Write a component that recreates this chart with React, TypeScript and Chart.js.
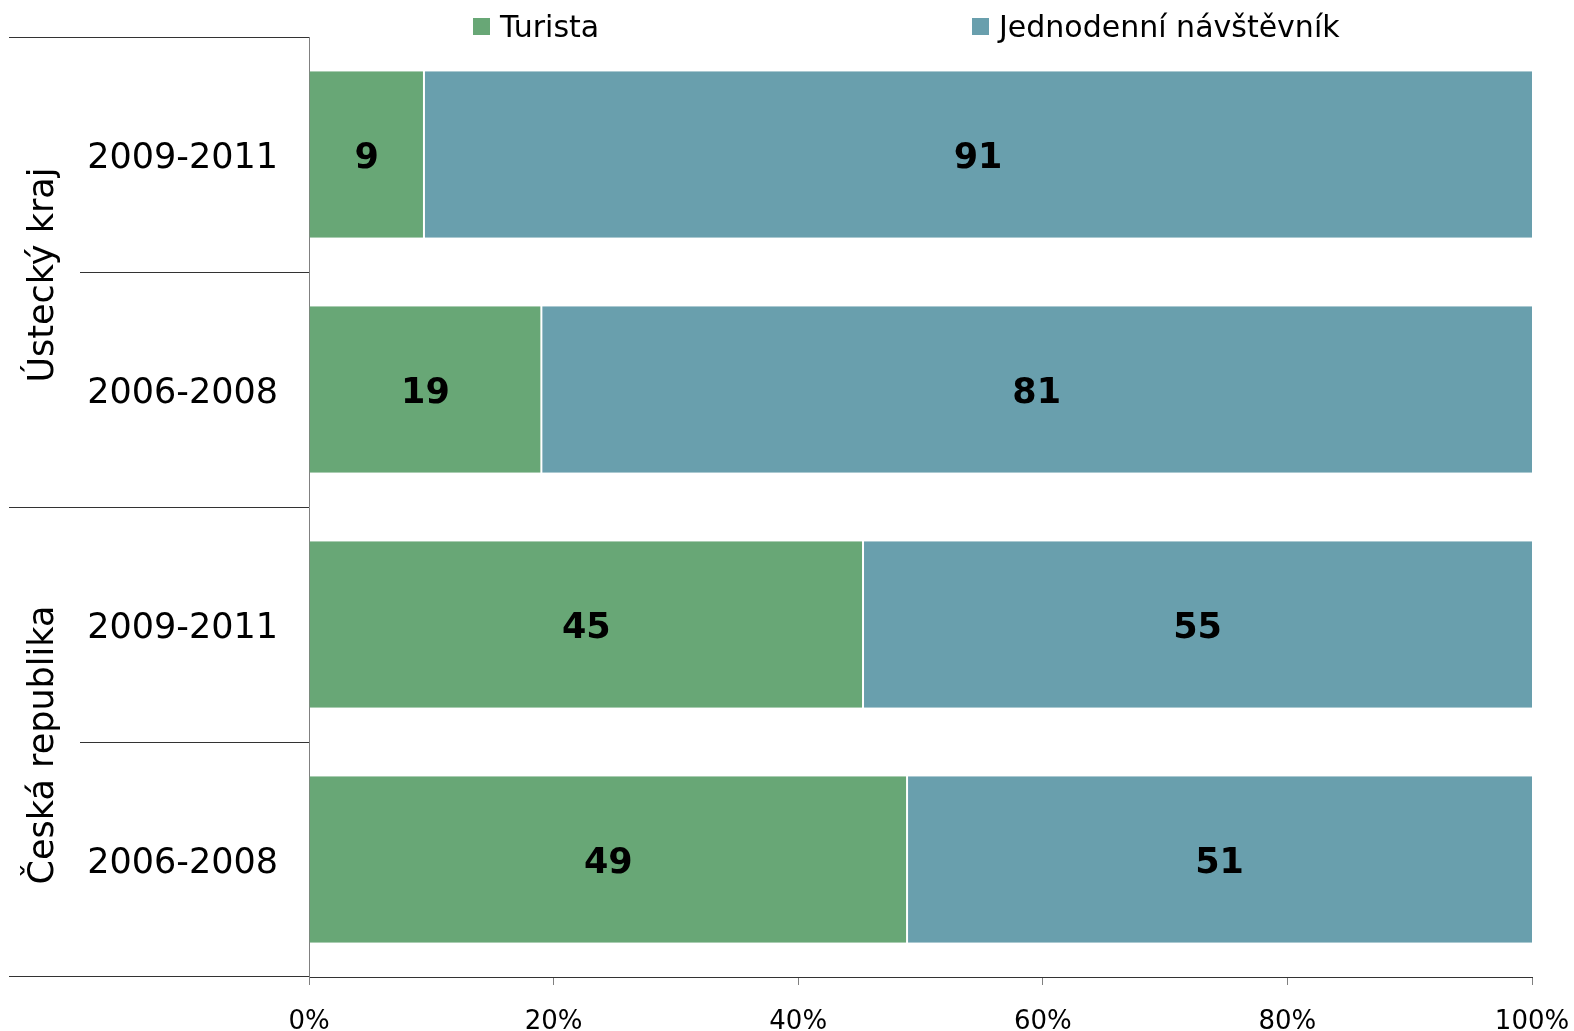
import React, { useEffect, useRef } from "react";
import { Chart, registerables } from "chart.js";

Chart.register(...registerables);

// ---- data ----
const categories = ["2009-2011", "2006-2008", "2009-2011", "2006-2008"];
const groups = ["Ústecký kraj", "Česká republika"];
const groupSizes = [2, 2];
const seriesNames = ["Turista", "Jednodenní návštěvník"];
const turista = [9.4, 19.0, 45.3, 48.9];
const jednodenni = [90.6, 81.0, 54.7, 51.1];
const xTickValues = [0, 20, 40, 60, 80, 100];

// ---- style ----
const FONT = "'DejaVu Sans', Verdana, sans-serif";
const GREEN = "#68A776";
const BLUE = "#699FAD";
const W = 1574;
const H = 1031;
const LEGEND_X = [473, 972];

const zeroPad = (s: any) => {
  s.paddingTop = 0;
  s.paddingBottom = 0;
  s.paddingLeft = 0;
  s.paddingRight = 0;
};

const overlay = {
  id: "overlay",
  afterDatasetsDraw(chart: any) {
    const ctx = chart.ctx;
    ctx.save();
    const fs = 35;
    ctx.font = `bold ${fs}px ${FONT}`;
    ctx.fillStyle = "#000";
    ctx.textAlign = "center";
    ctx.textBaseline = "alphabetic";
    chart.data.datasets.forEach((ds: any, di: number) => {
      const meta = chart.getDatasetMeta(di);
      meta.data.forEach((el: any, i: number) => {
        const p = el.getProps(["x", "base", "y"], true);
        const cx = (p.x + p.base) / 2;
        ctx.fillText(String(Math.round(ds.data[i])), cx, p.y + (0.729 * fs) / 2 + 0.5);
      });
    });
    ctx.restore();
  },
  afterDraw(chart: any) {
    const ctx = chart.ctx;
    const ys = chart.scales.y;
    const area = chart.chartArea;
    const n = categories.length;
    const half = (ys.getPixelForValue(1) - ys.getPixelForValue(0)) / 2;
    const groupStarts = new Set<number>();
    let acc = 0;
    groupStarts.add(0);
    groupSizes.forEach((s) => {
      acc += s;
      groupStarts.add(acc);
    });
    ctx.save();
    ctx.strokeStyle = "#333";
    ctx.lineWidth = 1;
    for (let i = 0; i <= n; i++) {
      const p = i < n ? ys.getPixelForValue(i) - half : ys.getPixelForValue(n - 1) + half;
      const yy = Math.round(p) + 0.5 - (i === n ? 1 : 0);
      const x0 = groupStarts.has(i) ? 9 : 80;
      ctx.beginPath();
      ctx.moveTo(x0, yy);
      ctx.lineTo(area.left, yy);
      ctx.stroke();
    }
    // group labels
    ctx.font = `35px ${FONT}`;
    ctx.fillStyle = "#000";
    ctx.textAlign = "center";
    ctx.textBaseline = "alphabetic";
    let start = 0;
    groups.forEach((g, gi) => {
      const end = start + groupSizes[gi] - 1;
      const top = ys.getPixelForValue(start) - half;
      const bot = ys.getPixelForValue(end) + half;
      const cy = (top + bot) / 2 + 3;
      ctx.save();
      ctx.translate(53, cy);
      ctx.rotate(-Math.PI / 2);
      ctx.fillText(g, 0, 0);
      ctx.restore();
      start += groupSizes[gi];
    });
    // legend
    ctx.font = `30px ${FONT}`;
    ctx.textAlign = "left";
    chart.data.datasets.forEach((ds: any, di: number) => {
      ctx.fillStyle = ds.backgroundColor;
      ctx.fillRect(LEGEND_X[di], 18, 17, 17);
      ctx.fillStyle = "#000";
      ctx.fillText(ds.label, LEGEND_X[di] + 27, 37);
    });
    ctx.restore();
  },
};

export default function App() {
  const ref = useRef<HTMLCanvasElement | null>(null);
  useEffect(() => {
    if (!ref.current) return;
    const chart = new Chart(ref.current, {
      type: "bar",
      data: {
        labels: categories,
        datasets: [
          {
            label: seriesNames[0],
            data: turista,
            backgroundColor: GREEN,
            borderColor: "#fff",
            borderWidth: { top: 0, bottom: 0, left: 0, right: 1 },
            borderSkipped: false,
            categoryPercentage: 1,
            barPercentage: 0.709,
          },
          {
            label: seriesNames[1],
            data: jednodenni,
            backgroundColor: BLUE,
            borderColor: "#fff",
            borderWidth: { top: 0, bottom: 0, left: 1, right: 0 },
            borderSkipped: false,
            categoryPercentage: 1,
            barPercentage: 0.709,
          },
        ],
      },
      options: {
        indexAxis: "y",
        responsive: false,
        animation: false,
        layout: { padding: { top: 37, right: 42, left: 0, bottom: 0 } },
        plugins: {
          legend: { display: false },
          tooltip: { enabled: false },
          title: { display: false },
        },
        scales: {
          x: {
            stacked: true,
            min: 0,
            max: 100,
            afterBuildTicks: (s: any) => {
              s.ticks = xTickValues.map((v) => ({ value: v }));
            },
            afterFit: (s: any) => {
              s.height = 54;
              zeroPad(s);
            },
            grid: {
              display: true,
              drawOnChartArea: false,
              drawTicks: true,
              tickLength: 8,
              color: "#808080",
            },
            border: { display: true, color: "#333", width: 1 },
            ticks: {
              padding: 22,
              color: "#000",
              font: { family: FONT, size: 26 },
              callback: (v: any) => `${v}%`,
              maxRotation: 0,
              autoSkip: false,
            },
          },
          y: {
            stacked: true,
            afterFit: (s: any) => {
              s.width = 309;
              zeroPad(s);
            },
            grid: { display: false, drawTicks: false },
            border: { display: true, color: "#808080", width: 1 },
            ticks: {
              padding: 31,
              labelOffset: 4,
              color: "#000",
              font: { family: FONT, size: 35 },
              autoSkip: false,
            },
          },
        },
      },
      plugins: [overlay],
    } as any);
    return () => chart.destroy();
  }, []);
  return (
    <div style={{ position: "fixed", left: 0, top: 0, width: W, height: H, background: "#fff" }}>
      <canvas ref={ref} width={W} height={H} style={{ display: "block" }} />
    </div>
  );
}
